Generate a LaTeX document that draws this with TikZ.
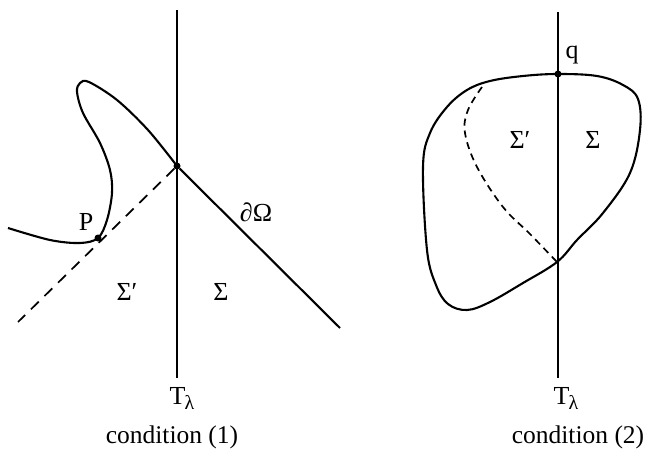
\documentclass[tikz,border=0pt]{standalone}
\usepackage{fontspec}
\setmainfont{Liberation Serif}
\begin{document}
\begin{tikzpicture}[x=1pt,y=-1pt,
  curve/.style={line width=2.1pt,line join=round},
  axis/.style={line width=1.8pt},
  dashline/.style={line width=1.7pt,dash pattern=on 11pt off 8pt},
  dashcurve/.style={line width=1.7pt,dash pattern=on 7pt off 5pt},
  dot/.style={circle,fill=black,inner sep=0pt,minimum size=7pt},
  lbl/.style={font=\fontsize{26}{29}\selectfont,inner sep=0pt},
  captxt/.style={font=\fontsize{25.5}{28}\selectfont,inner sep=0pt}]
\useasboundingbox (0,0) rectangle (646,455);
% ---- left figure ----
\coordinate (L1top) at (177,10);
\coordinate (L1bot) at (177,378);
\draw[axis] (L1top) -- (L1bot);
\node[dot] (X) at (177,166) {};
\node[dot] (P) at (98,238) {};
\coordinate (Dend) at (18,322);
\coordinate (Oend) at (340,328);
\draw[curve] plot[smooth,tension=0.55] coordinates {(8,228) (50,240) (80,243) (P) (107,220) (112,193) (110,170) (100,143) (83,113) (77,92) (80,83) (89,82) (117,100) (148,130) (X)};
\draw[curve] (X) -- (Oend);
\draw[dashline] (X) -- (Dend);
\node[lbl] (Plbl) at (86,222) {P};
\node[lbl] (dO) at (256,212) {∂Ω};
\node[lbl] (S1p) at (127,292) {Σ′};
\node[lbl] (S1) at (221,292) {Σ};
\node[lbl] (T1) at (182,398) {T\kern-1pt\raisebox{-5pt}{\fontsize{20}{22}\selectfont λ}};
\node[captxt] (C1) at (172,437) {condition (1)};
% ---- right figure ----
\coordinate (L2top) at (558,12);
\coordinate (L2bot) at (558,378);
\draw[axis] (L2top) -- (L2bot);
\node[dot] (Q) at (558,74) {};
\coordinate (Y) at (557,262);
\coordinate (Ds) at (482,87);
\draw[curve] plot[smooth cycle,tension=0.6] coordinates {(Q) (597,76) (623,85) (638,99) (640,130) (630,173) (603,213) (577,240) (Y) (523,283) (490,302) (467,310) (448,304) (436,285) (427,250) (423,167) (430,133) (447,107) (467,90) (490,81) (523,76)};
\draw[dashcurve] plot[smooth,tension=0.6] coordinates {(Ds) (468,110) (465,133) (477,167) (503,207) (530,234) (Y)};
\node[lbl] (qlbl) at (572,55) {q};
\node[lbl] (S2p) at (520,140) {Σ′};
\node[lbl] (S2) at (593,140) {Σ};
\node[lbl] (T2) at (566,398) {T\kern-1pt\raisebox{-5pt}{\fontsize{20}{22}\selectfont λ}};
\node[captxt] (C2) at (578,437) {condition (2)};
\end{tikzpicture}
\end{document}
